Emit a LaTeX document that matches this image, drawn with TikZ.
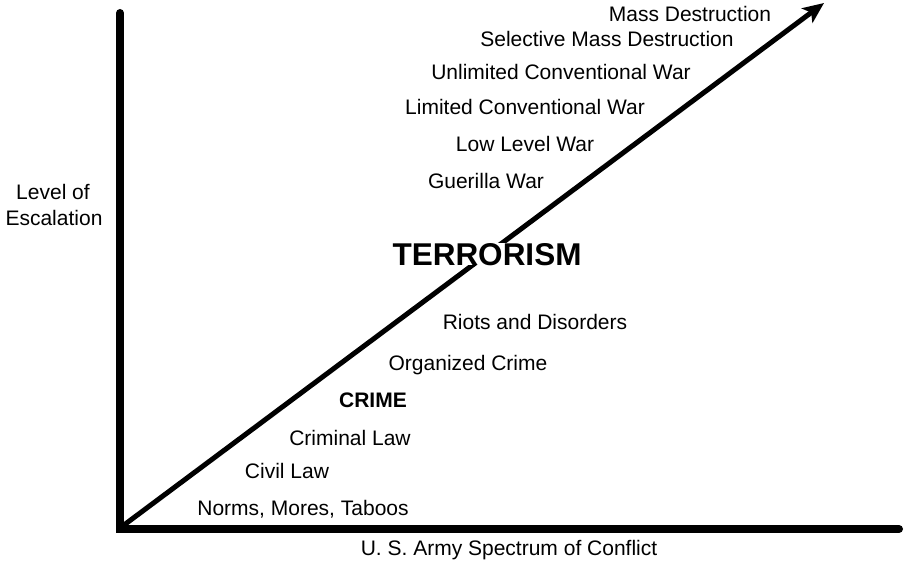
\documentclass[tikz,border=0pt]{standalone}
\usepackage{fontspec}
\setmainfont{Liberation Sans}
\usetikzlibrary{arrows.meta}

\begin{document}
\begin{tikzpicture}[
    x=1pt, y=-1pt,
    >=Stealth,
    rung/.style={anchor=base, font=\fontsize{21}{25}\selectfont},
]

\def\xmax{904}
\def\ymax{564}

\useasboundingbox (0,0) rectangle (\xmax,\ymax);

% --- Axes ---
\coordinate (ytop) at (120,13);
\coordinate (corner) at (120,529);
\coordinate (xend) at (899,529);
\draw[line width=8pt, line cap=round, line join=miter]
    (ytop) -- (corner) -- (xend);

% --- Escalation arrow ---
\coordinate (origin) at (124,525);
\coordinate (tip) at (824,3);
\draw[-{Stealth[length=21pt, width=18pt, inset=5pt]}, line width=5pt]
    (origin) -- (tip);

% --- Rungs of the ladder ---
\foreach \x/\y/\lbl [count=\i] in {
    690/22/{Mass Destruction},
    607/47/{Selective Mass Destruction},
    561/80/{Unlimited Conventional War},
    525/115/{Limited Conventional War},
    525/152/{Low Level War},
    486/189/{Guerilla War},
    535/329/{Riots and Disorders},
    468/370/{Organized Crime},
    350/445/{Criminal Law},
    287/478/{Civil Law},
    303/515/{Norms, Mores, Taboos}} {
    \node[rung] (rung-\i) at (\x,\y) {\lbl};
}

% --- Bands ---
\node[rung, font=\fontsize{31.5}{36}\selectfont\bfseries,
      fill=white, inner sep=0pt]
    (terror) at (487,265) {TERRORISM};
\node[rung, font=\fontsize{21}{25}\selectfont\bfseries]
    (crime) at (373,407) {CRIME};

% --- Axis labels ---
\node[rung] (ylabel-1) at (53,200) {Level of};
\node[rung] (ylabel-2) at (54,225) {Escalation};
\node[rung] (xlabel) at (509,555) {U. S. Army Spectrum of Conflict};

\end{tikzpicture}
\end{document}
